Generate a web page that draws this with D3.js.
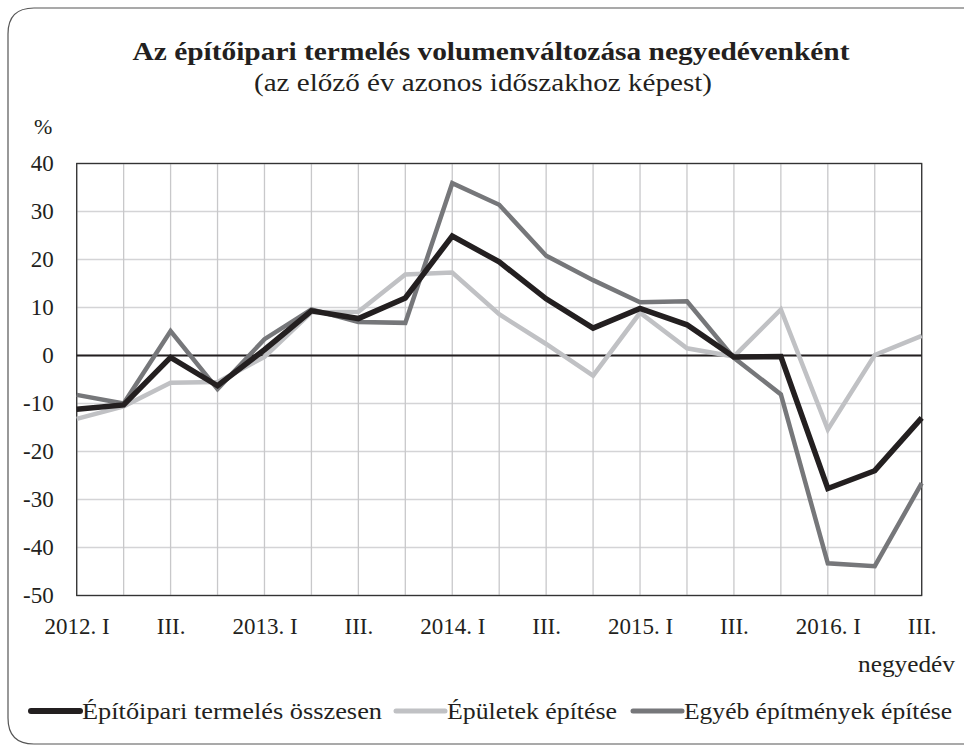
<!DOCTYPE html>
<html>
<head>
<meta charset="utf-8">
<script src="https://cdn.jsdelivr.net/npm/d3@7"></script>
<style>
  body { margin: 0; background: #fff; }
  text { font-family: "Liberation Serif", "DejaVu Serif", serif; fill: #231f20; }
</style>
</head>
<body>
<div class="container"></div>
<script>
var W = 964;
var H = 752;

// negyedévek
var quarters = ["2012. I", "II.", "III.", "IV.", "2013. I", "II.", "III.", "IV.",
  "2014. I", "II.", "III.", "IV.", "2015. I", "II.", "III.", "IV.", "2016. I", "II.", "III."];
var yTicks = [40, 30, 20, 10, 0, -10, -20, -30, -40, -50];

var seriesNames = ["Építőipari termelés összesen", "Épületek építése", "Egyéb építmények építése"];
var osszesen = [-11.2, -10.3, -0.4, -6.3, 1.2, 9.3, 7.7, 12.0, 24.9, 19.5, 11.8, 5.7, 9.8, 6.4, -0.3, -0.2, -27.7, -24.0, -13.0];
var epuletek = [-13.2, -10.6, -5.7, -5.5, -0.3, 9.0, 9.1, 16.9, 17.3, 8.6, 2.4, -4.2, 8.9, 1.5, -0.2, 9.6, -15.4, 0.1, 4.1];
var egyeb = [-8.2, -10.0, 5.1, -7.0, 3.4, 9.6, 7.0, 6.8, 35.9, 31.4, 20.8, 15.7, 11.1, 11.3, -0.5, -8.1, -43.3, -43.9, -26.6];

var colors = ["#231f20", "#c0c1c4", "#76777a"];
var widths = [5.5, 4.5, 4.5];

var plotLeft = 76.7, plotRight = 921.7, plotTop = 163.5, plotBottom = 595.5;

var svg = d3.select('.container')
  .append('svg')
  .attr('width', W)
  .attr('height', H);

// keret
svg.append('path')
  .attr('d', 'M8,718 L8,34 Q8,8 34,8 L966,8')
  .attr('fill', 'none')
  .attr('stroke', '#555')
  .attr('stroke-width', 1.2);
svg.append('path')
  .attr('d', 'M8,718 Q8,744 34,744 L966,744')
  .attr('fill', 'none')
  .attr('stroke', '#555')
  .attr('stroke-width', 1.2);

var x = d3.scalePoint()
  .domain(d3.range(quarters.length))
  .range([plotLeft, plotRight]);

var y = d3.scaleLinear()
  .domain([-50, 40])
  .range([plotBottom, plotTop]);

// rács
svg.append('g')
  .selectAll('line')
  .data(yTicks)
  .enter()
  .append('line')
  .attr('x1', plotLeft).attr('x2', plotRight)
  .attr('y1', d => y(d)).attr('y2', d => y(d))
  .attr('stroke', '#d4d4d6')
  .attr('stroke-width', 1.3);

svg.append('g')
  .selectAll('line')
  .data(d3.range(quarters.length))
  .enter()
  .append('line')
  .attr('x1', d => x(d)).attr('x2', d => x(d))
  .attr('y1', plotTop).attr('y2', plotBottom)
  .attr('stroke', '#c8c8ca')
  .attr('stroke-width', 1.3);

svg.append('rect')
  .attr('x', plotLeft).attr('y', plotTop)
  .attr('width', plotRight - plotLeft).attr('height', plotBottom - plotTop)
  .attr('fill', 'none')
  .attr('stroke', '#333')
  .attr('stroke-width', 1.3);

svg.append('line')
  .attr('x1', plotLeft).attr('x2', plotRight)
  .attr('y1', y(0)).attr('y2', y(0))
  .attr('stroke', '#231f20')
  .attr('stroke-width', 2);

// y tengely (sima kötőjel, nem unicode mínusz)
var yAxis = d3.axisLeft(y)
  .tickValues(yTicks)
  .tickFormat(d => String(d))
  .tickSize(0)
  .tickPadding(23);
var yg = svg.append('g')
  .attr('transform', 'translate(' + plotLeft + ',0)')
  .call(yAxis);
yg.select('.domain').remove();
yg.selectAll('text')
  .style('font-family', '"Liberation Serif", serif')
  .style('font-size', '23px')
  .attr('fill', '#231f20');

// x tengely
var xAxis = d3.axisBottom(x)
  .tickValues(d3.range(0, quarters.length, 2))
  .tickFormat(i => quarters[i])
  .tickSize(0)
  .tickPadding(22);
var xg = svg.append('g')
  .attr('transform', 'translate(0,' + plotBottom + ')')
  .call(xAxis);
xg.select('.domain').remove();
xg.selectAll('text')
  .style('font-family', '"Liberation Serif", serif')
  .style('font-size', '23px')
  .attr('fill', '#231f20');

// vonalak
var allSeries = [egyeb, epuletek, osszesen];
var order = [2, 1, 0];
var line = d3.line()
  .x((d, i) => x(i))
  .y(d => y(d));

svg.append('g')
  .selectAll('path')
  .data(allSeries)
  .enter()
  .append('path')
  .attr('d', d => line(d))
  .attr('fill', 'none')
  .attr('stroke', (d, i) => colors[order[i]])
  .attr('stroke-width', (d, i) => widths[order[i]])
  .attr('stroke-linejoin', 'miter');

// címek
svg.append('text')
  .attr('x', 491).attr('y', 60)
  .attr('text-anchor', 'middle')
  .attr('textLength', 717)
  .attr('lengthAdjust', 'spacingAndGlyphs')
  .style('font-size', '26px')
  .style('font-weight', 'bold')
  .text('Az építőipari termelés volumenváltozása negyedévenként');

svg.append('text')
  .attr('x', 483).attr('y', 91)
  .attr('text-anchor', 'middle')
  .attr('textLength', 458)
  .attr('lengthAdjust', 'spacingAndGlyphs')
  .style('font-size', '25px')
  .text('(az előző év azonos időszakhoz képest)');

svg.append('text')
  .attr('x', 34).attr('y', 134)
  .style('font-size', '22px')
  .text('%');

svg.append('text')
  .attr('x', 955).attr('y', 672)
  .attr('text-anchor', 'end')
  .attr('textLength', 97)
  .attr('lengthAdjust', 'spacingAndGlyphs')
  .style('font-size', '23px')
  .text('negyedév');

// jelmagyarázat
var legendX = [31, 396, 633];
var legendTextW = [300, 170, 268];
var legend = svg.append('g')
  .attr('class', 'legend');

var items = legend.selectAll('g')
  .data(seriesNames)
  .enter()
  .append('g')
  .attr('transform', (d, i) => 'translate(' + legendX[i] + ',711)');

items.append('line')
  .attr('x1', 0).attr('x2', 49)
  .attr('y1', 0).attr('y2', 0)
  .attr('stroke', (d, i) => colors[i])
  .attr('stroke-width', (d, i) => widths[i] + 0.5)
  .attr('stroke-linecap', 'round');

items.append('text')
  .attr('x', 51).attr('y', 8)
  .attr('textLength', (d, i) => legendTextW[i])
  .attr('lengthAdjust', 'spacingAndGlyphs')
  .style('font-size', '24px')
  .text(d => d);
</script>
</body>
</html>
